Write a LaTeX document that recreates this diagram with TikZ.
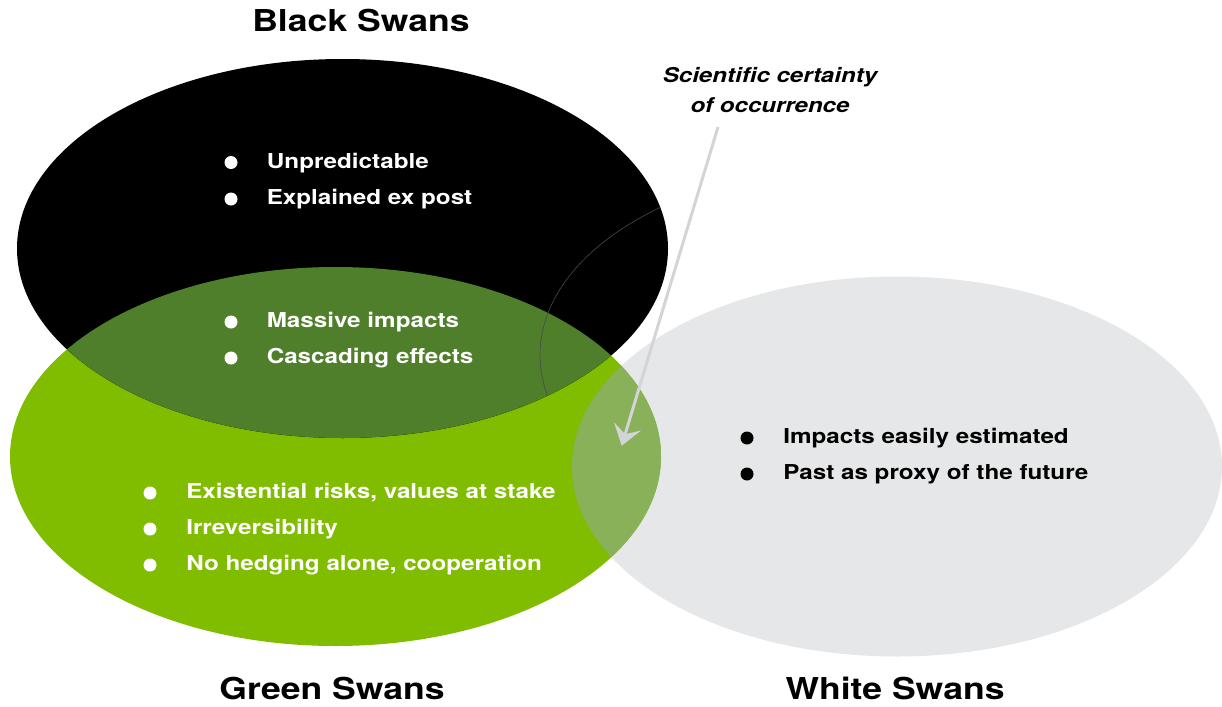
\documentclass[tikz,border=0pt]{standalone}
\usepackage{fontspec}
\setmainfont{TeX Gyre Heros}[FakeStretch=1.18]
\usetikzlibrary{arrows.meta}
\definecolor{swgreen}{HTML}{80BC00}
\definecolor{swdark}{HTML}{4F7F2B}
\definecolor{swgray}{HTML}{E6E7E8}
\definecolor{swlight}{HTML}{89B159}
\definecolor{swarrow}{HTML}{D3D4D8}
\definecolor{swghost}{HTML}{4A4A4A}
\begin{document}
\begin{tikzpicture}[x=0.75pt,y=-0.75pt,
  bullettext/.style={anchor=base west, inner sep=0pt, font=\fontsize{15.4}{18}\selectfont\bfseries},
  titletext/.style={anchor=base, inner sep=0pt, font=\fontsize{22.6}{27}\selectfont\bfseries},
  notetext/.style={anchor=base, inner sep=0pt, font=\fontsize{15.3}{18}\selectfont\bfseries\itshape},
  dotmark/.style={circle, inner sep=0pt, minimum size=9.75pt},
  pointer/.style={swarrow, line width=2.25pt, -{Stealth[length=15pt,width=21pt,inset=6pt]}}
]
\useasboundingbox (0,0) rectangle (1222,707);
% ellipses
\fill[swgray] (897,466.5) ellipse [x radius=325, y radius=190];
\fill[swgreen] (335.5,456.5) ellipse [x radius=325.5, y radius=189.5];
\fill[black] (342.5,248.5) ellipse [x radius=325.5, y radius=189.5];
\begin{scope}
  \clip (342.5,248.5) ellipse [x radius=325.5, y radius=189.5];
  \fill[swdark] (335.5,456.5) ellipse [x radius=325.5, y radius=189.5];
  \draw[swghost, line width=0.45pt] (865,355) ellipse [x radius=325, y radius=190];
\end{scope}
\begin{scope}
  \clip (335.5,456.5) ellipse [x radius=325.5, y radius=189.5];
  \fill[swlight] (897,466.5) ellipse [x radius=325, y radius=190];
\end{scope}
% titles
\node[titletext] (tblack) at (361,31.5) {Black Swans};
\node[titletext] (tgreen) at (332,699.5) {Green Swans};
\node[titletext] (twhite) at (895,699.5) {White Swans};
% black swan bullets
\node[dotmark, fill=white] (d1) at (231,162.5) {};
\node[bullettext, text=white] (b1) at (266.5,168) {Unpredictable};
\node[dotmark, fill=white] (d2) at (231,199) {};
\node[bullettext, text=white] (b2) at (266.5,204.5) {Explained ex post};
\node[dotmark, fill=white] (d3) at (231,322) {};
\node[bullettext, text=white] (b3) at (266.5,327.5) {Massive impacts};
\node[dotmark, fill=white] (d4) at (231,358) {};
\node[bullettext, text=white] (b4) at (266.5,363.5) {Cascading effects};
% green swan bullets
\node[dotmark, fill=white] (d5) at (150,493) {};
\node[bullettext, text=white] (b5) at (186,498.5) {Existential risks, values at stake};
\node[dotmark, fill=white] (d6) at (150,529) {};
\node[bullettext, text=white] (b6) at (186,534.5) {Irreversibility};
\node[dotmark, fill=white] (d7) at (150,565) {};
\node[bullettext, text=white] (b7) at (186,570.5) {No hedging alone, cooperation};
% white swan bullets
\node[dotmark, fill=black] (d8) at (747,438) {};
\node[bullettext, text=black] (b8) at (783,443.5) {Impacts easily estimated};
\node[dotmark, fill=black] (d9) at (747,474) {};
\node[bullettext, text=black] (b9) at (783,479.5) {Past as proxy of the future};
% note and pointer
\node[notetext] (n1) at (770,82) {Scientific certainty};
\node[notetext] (n2) at (770,112) {of occurrence};
\coordinate (astart) at (718,127);
\coordinate (atip) at (621.7,445.7);
\draw[pointer] (astart) -- (atip);
\end{tikzpicture}
\end{document}
